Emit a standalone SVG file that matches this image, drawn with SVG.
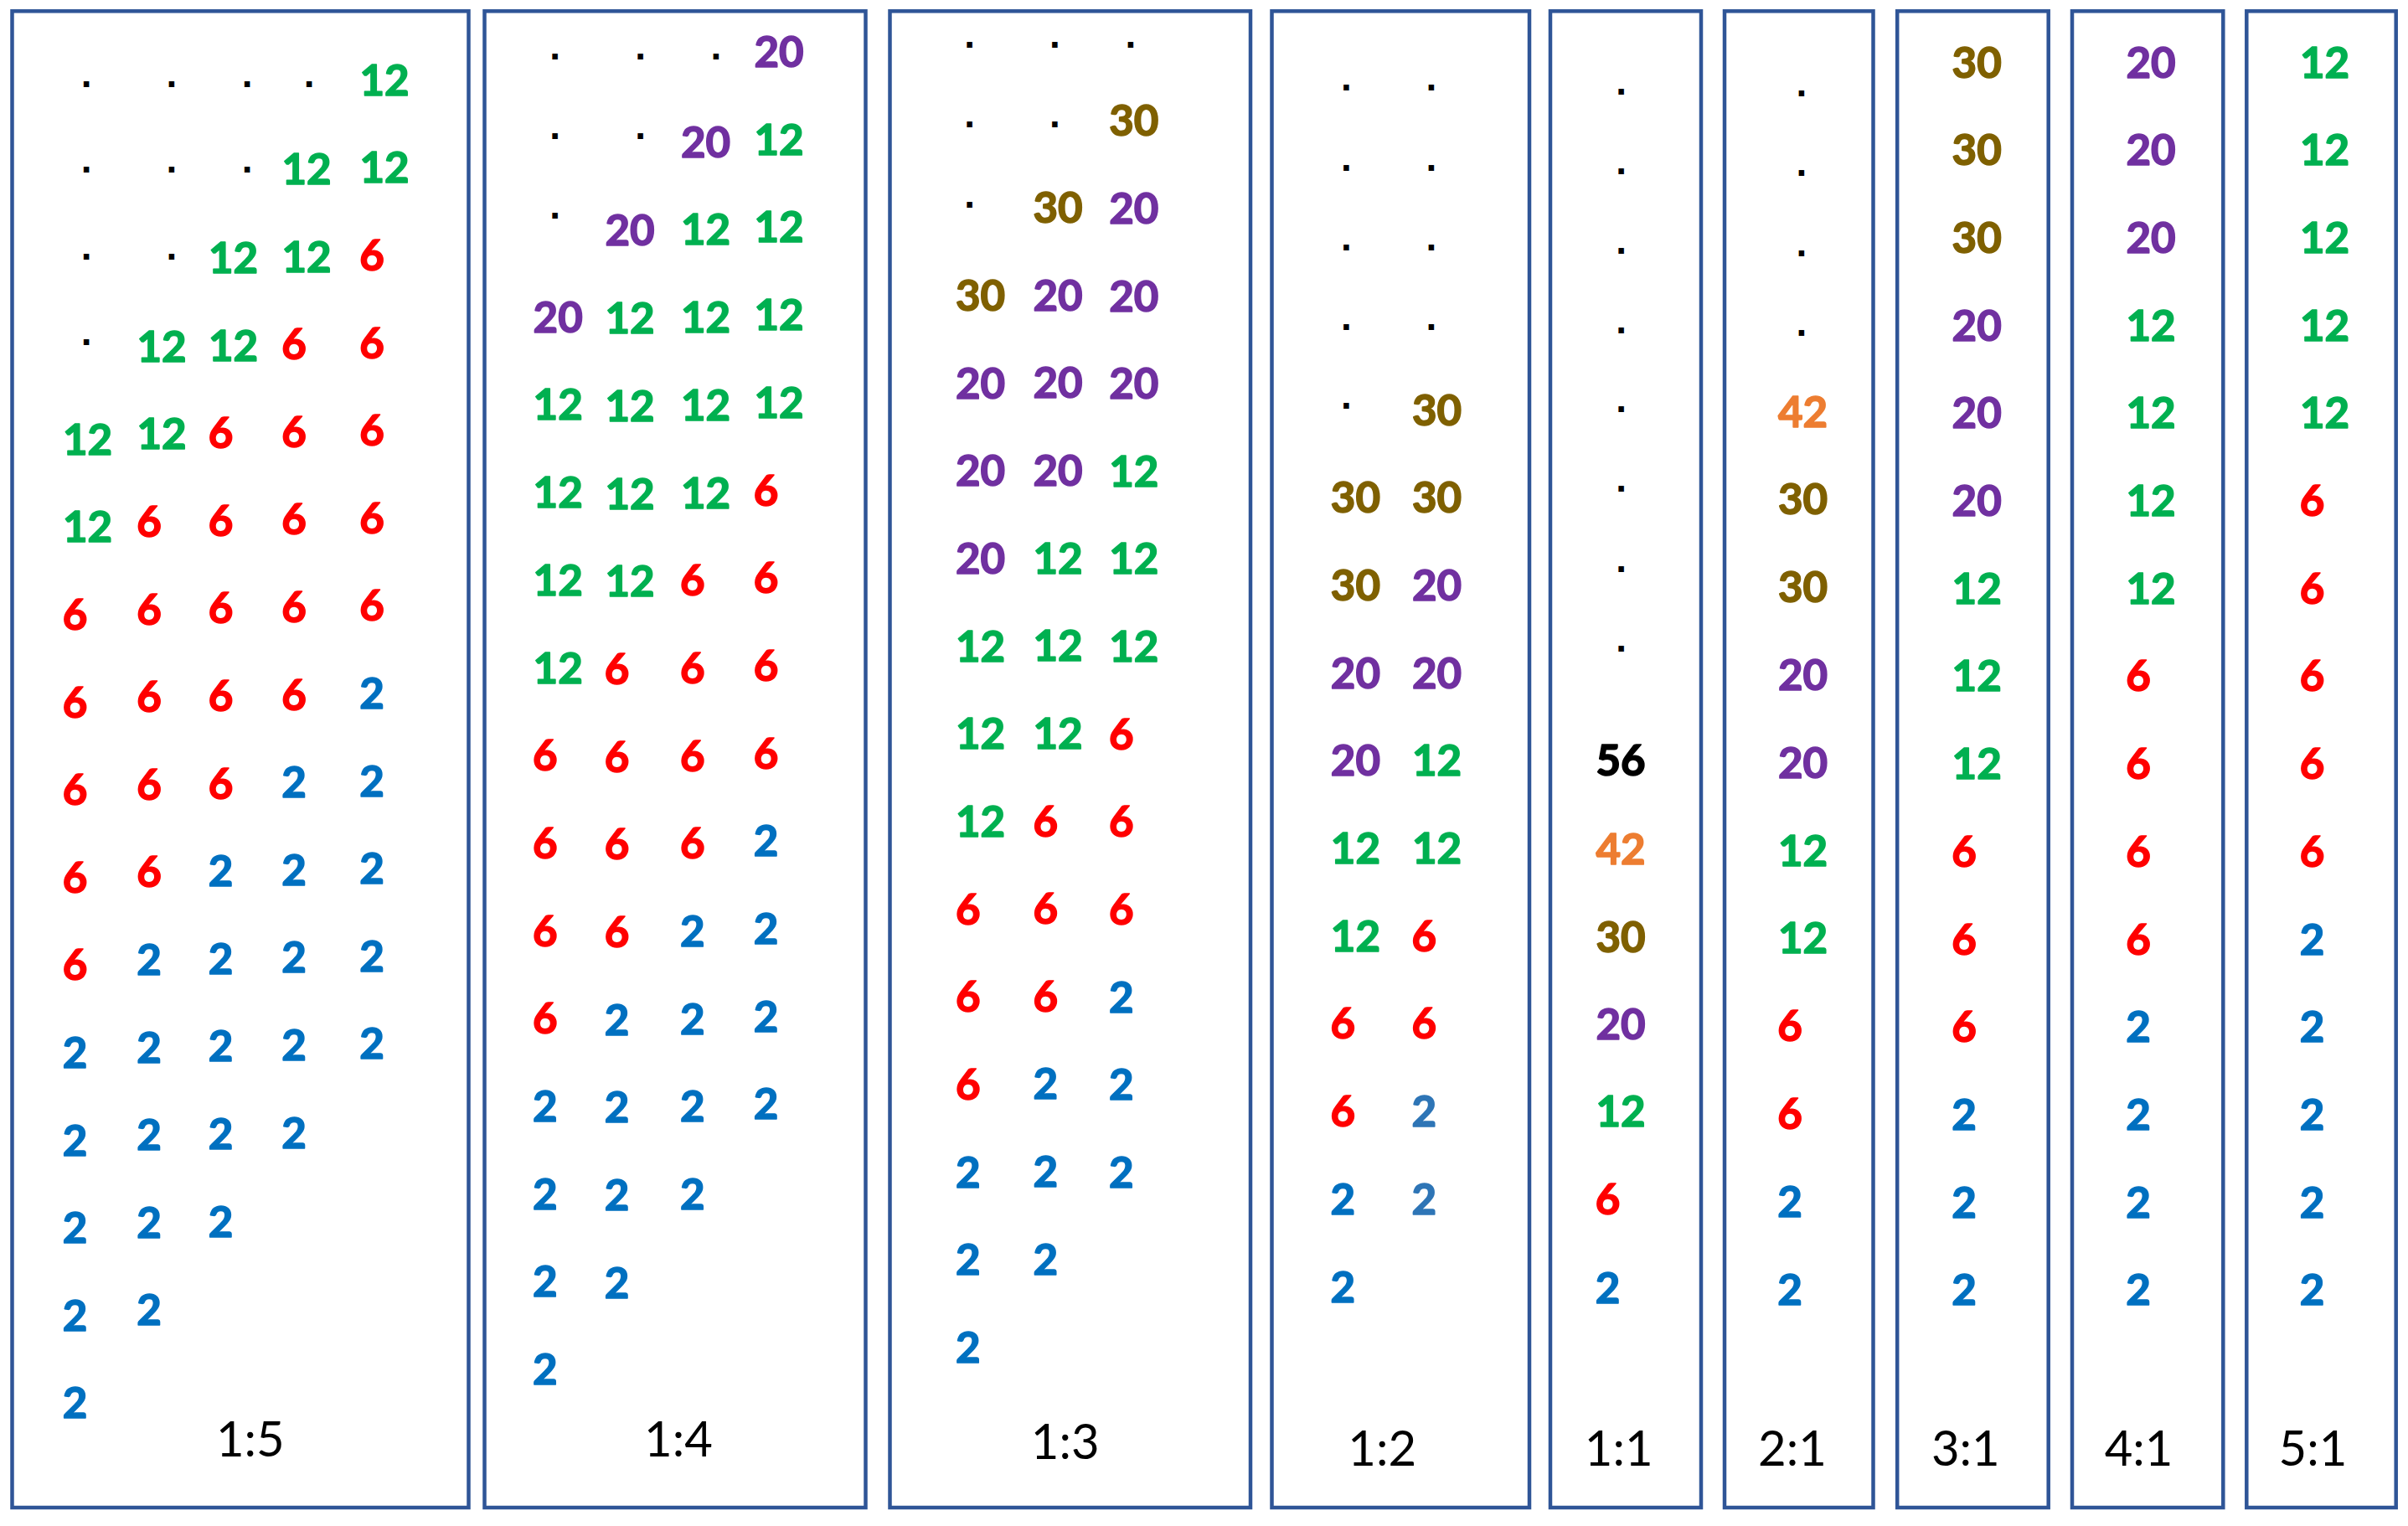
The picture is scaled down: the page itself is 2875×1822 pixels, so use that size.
<svg xmlns="http://www.w3.org/2000/svg" width="2875" height="1822" viewBox="0 0 2875 1822">
<style>
.box{fill:none;stroke:#2F5597;stroke-width:4.5}
.n{font-family:Lato,"Open Sans","Liberation Sans",sans-serif;font-weight:700;font-size:51px;text-anchor:middle;stroke-width:1.6;stroke-linejoin:round}
.g{fill:#00B050;stroke:#00B050}.r{fill:#FF0000;stroke:#FF0000}.b{fill:#0070C0;stroke:#0070C0}.b2{fill:#2E75B6;stroke:#2E75B6}.p{fill:#7030A0;stroke:#7030A0}.o{fill:#7F6000;stroke:#7F6000}.a{fill:#ED7D31;stroke:#ED7D31}.k{fill:#000;stroke:#000}
.d{font-family:"Liberation Sans",Arial,sans-serif;font-weight:700;font-size:46px;text-anchor:middle;fill:#000}
.l{font-family:Lato,"Open Sans","Liberation Sans",sans-serif;font-size:58px;text-anchor:middle;fill:#000}
</style>
<rect width="2875" height="1822" fill="#fff"/>
<g id="box-1-5">
<rect class="box" x="14.5" y="13.3" width="545" height="1786.7"/>
<text class="d" x="103.2" y="103.6">.</text><text class="d" x="205" y="103.6">.</text><text class="d" x="295.2" y="103.6">.</text><text class="d" x="369.2" y="103.6">.</text>
<text class="d" x="103.2" y="205.8">.</text><text class="d" x="205" y="205.8">.</text><text class="d" x="295.2" y="205.8">.</text>
<text class="d" x="103.2" y="310">.</text><text class="d" x="205" y="310">.</text>
<text class="d" x="103.2" y="411.7">.</text>
<text class="n g" x="104.5" y="542.7">12</text><text class="n g" x="104.5" y="647.3">12</text>
<text class="n r" x="89.5" y="751.9">6</text><text class="n r" x="89.5" y="856.5">6</text><text class="n r" x="89.5" y="961.1">6</text><text class="n r" x="89.5" y="1065.7">6</text><text class="n r" x="89.5" y="1170.3">6</text>
<text class="n b" x="89.5" y="1274.9">2</text><text class="n b" x="89.5" y="1379.5">2</text><text class="n b" x="89.5" y="1484.1">2</text><text class="n b" x="89.5" y="1588.7">2</text><text class="n b" x="89.5" y="1693.3">2</text>
<text class="n g" x="193" y="431.7">12</text><text class="n g" x="193" y="536.3">12</text>
<text class="n r" x="178" y="640.9">6</text><text class="n r" x="178" y="745.5">6</text><text class="n r" x="178" y="850.1">6</text><text class="n r" x="178" y="954.7">6</text><text class="n r" x="178" y="1059.3">6</text>
<text class="n b" x="178" y="1163.9">2</text><text class="n b" x="178" y="1268.5">2</text><text class="n b" x="178" y="1373.1">2</text><text class="n b" x="178" y="1477.7">2</text><text class="n b" x="178" y="1582.3">2</text>
<text class="n g" x="278.5" y="326">12</text><text class="n g" x="278.5" y="430.6">12</text>
<text class="n r" x="263.5" y="535.2">6</text><text class="n r" x="263.5" y="639.8">6</text><text class="n r" x="263.5" y="744.4">6</text><text class="n r" x="263.5" y="849">6</text><text class="n r" x="263.5" y="953.6">6</text>
<text class="n b" x="263.5" y="1058.2">2</text><text class="n b" x="263.5" y="1162.8">2</text><text class="n b" x="263.5" y="1267.4">2</text><text class="n b" x="263.5" y="1372">2</text><text class="n b" x="263.5" y="1476.6">2</text>
<text class="n g" x="366" y="220">12</text><text class="n g" x="366" y="324.6">12</text>
<text class="n r" x="351" y="429.2">6</text><text class="n r" x="351" y="533.8">6</text><text class="n r" x="351" y="638.4">6</text><text class="n r" x="351" y="743">6</text><text class="n r" x="351" y="847.6">6</text>
<text class="n b" x="351" y="952.2">2</text><text class="n b" x="351" y="1056.8">2</text><text class="n b" x="351" y="1161.4">2</text><text class="n b" x="351" y="1266">2</text><text class="n b" x="351" y="1370.6">2</text>
<text class="n g" x="459" y="113.7">12</text><text class="n g" x="459" y="218.3">12</text>
<text class="n r" x="444" y="322.9">6</text><text class="n r" x="444" y="427.5">6</text><text class="n r" x="444" y="532.1">6</text><text class="n r" x="444" y="636.7">6</text><text class="n r" x="444" y="741.3">6</text>
<text class="n b" x="444" y="845.9">2</text><text class="n b" x="444" y="950.5">2</text><text class="n b" x="444" y="1055.1">2</text><text class="n b" x="444" y="1159.7">2</text><text class="n b" x="444" y="1264.3">2</text>
<text class="l" x="298.8" y="1739">1:5</text>
</g>
<g id="box-1-4">
<rect class="box" x="578.5" y="13.3" width="455" height="1786.7"/>
<text class="d" x="662.7" y="70.7">.</text><text class="d" x="764.7" y="70.7">.</text><text class="d" x="855" y="70.7">.</text>
<text class="d" x="662.7" y="165.7">.</text><text class="d" x="764.7" y="165.7">.</text>
<text class="d" x="662.7" y="261.3">.</text>
<text class="n p" x="666.2" y="396.7">20</text>
<text class="n g" x="666.2" y="501.4">12</text><text class="n g" x="666.2" y="606.1">12</text><text class="n g" x="666.2" y="710.8">12</text><text class="n g" x="666.2" y="815.5">12</text>
<text class="n r" x="650.7" y="920.2">6</text><text class="n r" x="650.7" y="1024.9">6</text><text class="n r" x="650.7" y="1129.6">6</text><text class="n r" x="650.7" y="1234.3">6</text>
<text class="n b" x="650.7" y="1339">2</text><text class="n b" x="650.7" y="1443.7">2</text><text class="n b" x="650.7" y="1548.4">2</text><text class="n b" x="650.7" y="1653.1">2</text>
<text class="n p" x="752" y="293.4">20</text>
<text class="n g" x="752" y="398.1">12</text><text class="n g" x="752" y="502.8">12</text><text class="n g" x="752" y="607.5">12</text><text class="n g" x="752" y="712.2">12</text>
<text class="n r" x="736.5" y="816.9">6</text><text class="n r" x="736.5" y="921.6">6</text><text class="n r" x="736.5" y="1026.3">6</text><text class="n r" x="736.5" y="1131">6</text>
<text class="n b" x="736.5" y="1235.7">2</text><text class="n b" x="736.5" y="1340.4">2</text><text class="n b" x="736.5" y="1445.1">2</text><text class="n b" x="736.5" y="1549.8">2</text>
<text class="n p" x="842.6" y="187.7">20</text>
<text class="n g" x="842.6" y="292.4">12</text><text class="n g" x="842.6" y="397.1">12</text><text class="n g" x="842.6" y="501.8">12</text><text class="n g" x="842.6" y="606.5">12</text>
<text class="n r" x="826.8" y="711.2">6</text><text class="n r" x="826.8" y="815.9">6</text><text class="n r" x="826.8" y="920.6">6</text><text class="n r" x="826.8" y="1025.3">6</text>
<text class="n b" x="826.8" y="1130">2</text><text class="n b" x="826.8" y="1234.7">2</text><text class="n b" x="826.8" y="1339.4">2</text><text class="n b" x="826.8" y="1444.1">2</text>
<text class="n p" x="930" y="80">20</text>
<text class="n g" x="930" y="184.7">12</text><text class="n g" x="930" y="289.4">12</text><text class="n g" x="930" y="394.1">12</text><text class="n g" x="930" y="498.8">12</text>
<text class="n r" x="914.5" y="603.5">6</text><text class="n r" x="914.5" y="708.2">6</text><text class="n r" x="914.5" y="812.9">6</text><text class="n r" x="914.5" y="917.6">6</text>
<text class="n b" x="914.5" y="1022.3">2</text><text class="n b" x="914.5" y="1127">2</text><text class="n b" x="914.5" y="1231.7">2</text><text class="n b" x="914.5" y="1336.4">2</text>
<text class="l" x="810" y="1739">1:4</text>
</g>
<g id="box-1-3">
<rect class="box" x="1062.5" y="13.3" width="430.5" height="1786.7"/>
<text class="d" x="1157.7" y="57">.</text><text class="d" x="1259.3" y="57">.</text><text class="d" x="1350" y="57">.</text>
<text class="d" x="1157.7" y="152.3">.</text><text class="d" x="1259.3" y="152.3">.</text>
<text class="d" x="1157.7" y="248">.</text>
<text class="n o" x="1170.5" y="371">30</text>
<text class="n p" x="1170.5" y="475.6">20</text><text class="n p" x="1170.5" y="580.3">20</text><text class="n p" x="1170.5" y="684.9">20</text>
<text class="n g" x="1170.5" y="789.6">12</text><text class="n g" x="1170.5" y="894.2">12</text><text class="n g" x="1170.5" y="998.9">12</text>
<text class="n r" x="1155.7" y="1103.5">6</text><text class="n r" x="1155.7" y="1208.2">6</text><text class="n r" x="1155.7" y="1312.8">6</text>
<text class="n b" x="1155.7" y="1417.5">2</text><text class="n b" x="1155.7" y="1522.1">2</text><text class="n b" x="1155.7" y="1626.8">2</text>
<text class="n o" x="1263" y="265.9">30</text>
<text class="n p" x="1263" y="370.6">20</text><text class="n p" x="1263" y="475.2">20</text><text class="n p" x="1263" y="579.9">20</text>
<text class="n g" x="1263" y="684.5">12</text><text class="n g" x="1263" y="789.2">12</text><text class="n g" x="1263" y="893.8">12</text>
<text class="n r" x="1248.3" y="998.5">6</text><text class="n r" x="1248.3" y="1103.1">6</text><text class="n r" x="1248.3" y="1207.8">6</text>
<text class="n b" x="1248.3" y="1312.4">2</text><text class="n b" x="1248.3" y="1417.1">2</text><text class="n b" x="1248.3" y="1521.7">2</text>
<text class="n o" x="1353.8" y="162.2">30</text>
<text class="n p" x="1353.8" y="266.8">20</text><text class="n p" x="1353.8" y="371.5">20</text><text class="n p" x="1353.8" y="476.1">20</text>
<text class="n g" x="1353.8" y="580.8">12</text><text class="n g" x="1353.8" y="685.4">12</text><text class="n g" x="1353.8" y="790.1">12</text>
<text class="n r" x="1338.8" y="894.7">6</text><text class="n r" x="1338.8" y="999.4">6</text><text class="n r" x="1338.8" y="1104">6</text>
<text class="n b" x="1338.8" y="1208.7">2</text><text class="n b" x="1338.8" y="1313.3">2</text><text class="n b" x="1338.8" y="1418">2</text>
<text class="l" x="1271.7" y="1742.3">1:3</text>
</g>
<g id="box-1-2">
<rect class="box" x="1518.5" y="13.3" width="307.5" height="1786.7"/>
<text class="d" x="1607.3" y="108.2">.</text><text class="d" x="1607.3" y="203.9">.</text><text class="d" x="1607.3" y="298.8">.</text><text class="d" x="1607.3" y="394.1">.</text><text class="d" x="1607.3" y="487.9">.</text>
<text class="d" x="1709" y="108.2">.</text><text class="d" x="1709" y="203.9">.</text><text class="d" x="1709" y="298.8">.</text><text class="d" x="1709" y="394.1">.</text>
<text class="n o" x="1618.4" y="612.2">30</text><text class="n o" x="1618.4" y="716.9">30</text>
<text class="n p" x="1618.4" y="821.6">20</text><text class="n p" x="1618.4" y="926.3">20</text>
<text class="n g" x="1618.4" y="1031">12</text><text class="n g" x="1618.4" y="1135.7">12</text>
<text class="n r" x="1603.2" y="1240.4">6</text><text class="n r" x="1603.2" y="1345.1">6</text>
<text class="n b" x="1603.2" y="1449.8">2</text><text class="n b" x="1603.2" y="1554.5">2</text>
<text class="n o" x="1715.5" y="507.5">30</text><text class="n o" x="1715.5" y="612.2">30</text>
<text class="n p" x="1715.5" y="716.9">20</text><text class="n p" x="1715.5" y="821.6">20</text>
<text class="n g" x="1715.5" y="926.3">12</text><text class="n g" x="1715.5" y="1031">12</text>
<text class="n r" x="1700.4" y="1135.7">6</text><text class="n r" x="1700.4" y="1240.4">6</text>
<text class="n b2" x="1700.4" y="1345.1">2</text><text class="n b2" x="1700.4" y="1449.8">2</text>
<text class="l" x="1650.2" y="1750">1:2</text>
</g>
<g id="box-1-1">
<rect class="box" x="1851" y="13.3" width="180" height="1786.7"/>
<text class="d" x="1935.6" y="112.8">.</text><text class="d" x="1935.6" y="207.7">.</text><text class="d" x="1935.6" y="303.4">.</text><text class="d" x="1935.6" y="398.3">.</text><text class="d" x="1935.6" y="491.7">.</text><text class="d" x="1935.6" y="587">.</text><text class="d" x="1935.6" y="682.9">.</text><text class="d" x="1935.6" y="778.4">.</text>
<text class="n k" x="1935" y="925.5">56</text>
<text class="n a" x="1935" y="1032">42</text>
<text class="n o" x="1935" y="1137">30</text>
<text class="n p" x="1935" y="1241">20</text>
<text class="n g" x="1935" y="1344.5">12</text>
<text class="n r" x="1919.6" y="1450">6</text>
<text class="n b" x="1919.6" y="1556">2</text>
<text class="l" x="1932.7" y="1750">1:1</text>
</g>
<g id="box-2-1">
<rect class="box" x="2059" y="13.3" width="177.5" height="1786.7"/>
<text class="d" x="2151" y="114.8">.</text><text class="d" x="2151" y="210.2">.</text><text class="d" x="2151" y="305.5">.</text><text class="d" x="2151" y="400.9">.</text>
<text class="n a" x="2152.5" y="509.5">42</text>
<text class="n o" x="2152.5" y="614.3">30</text><text class="n o" x="2152.5" y="719.1">30</text>
<text class="n p" x="2152.5" y="823.9">20</text><text class="n p" x="2152.5" y="928.7">20</text>
<text class="n g" x="2152.5" y="1033.5">12</text><text class="n g" x="2152.5" y="1138.3">12</text>
<text class="n r" x="2137" y="1243.1">6</text><text class="n r" x="2137" y="1347.9">6</text>
<text class="n b" x="2137" y="1452.7">2</text><text class="n b" x="2137" y="1557.5">2</text>
<text class="l" x="2140" y="1750">2:1</text>
</g>
<g id="box-3-1">
<rect class="box" x="2265.2" y="13.3" width="180.5" height="1786.7"/>
<text class="n o" x="2360.2" y="92.5">30</text><text class="n o" x="2360.2" y="197.2">30</text><text class="n o" x="2360.2" y="301.9">30</text>
<text class="n p" x="2360.2" y="406.6">20</text><text class="n p" x="2360.2" y="511.3">20</text><text class="n p" x="2360.2" y="616">20</text>
<text class="n g" x="2360.2" y="720.7">12</text><text class="n g" x="2360.2" y="825.4">12</text><text class="n g" x="2360.2" y="930.1">12</text>
<text class="n r" x="2345" y="1034.8">6</text><text class="n r" x="2345" y="1139.5">6</text><text class="n r" x="2345" y="1244.2">6</text>
<text class="n b" x="2345" y="1348.9">2</text><text class="n b" x="2345" y="1453.6">2</text><text class="n b" x="2345" y="1558.3">2</text>
<text class="l" x="2346.8" y="1750">3:1</text>
</g>
<g id="box-4-1">
<rect class="box" x="2474" y="13.3" width="180.3" height="1786.7"/>
<text class="n p" x="2568" y="92.5">20</text><text class="n p" x="2568" y="197.2">20</text><text class="n p" x="2568" y="301.9">20</text>
<text class="n g" x="2568" y="406.6">12</text><text class="n g" x="2568" y="511.3">12</text><text class="n g" x="2568" y="616">12</text><text class="n g" x="2568" y="720.7">12</text>
<text class="n r" x="2553" y="825.4">6</text><text class="n r" x="2553" y="930.1">6</text><text class="n r" x="2553" y="1034.8">6</text><text class="n r" x="2553" y="1139.5">6</text>
<text class="n b" x="2553" y="1244.2">2</text><text class="n b" x="2553" y="1348.9">2</text><text class="n b" x="2553" y="1453.6">2</text><text class="n b" x="2553" y="1558.3">2</text>
<text class="l" x="2553.6" y="1750">4:1</text>
</g>
<g id="box-5-1">
<rect class="box" x="2682.3" y="13.3" width="178.4" height="1786.7"/>
<text class="n g" x="2775.5" y="92.5">12</text><text class="n g" x="2775.5" y="197.2">12</text><text class="n g" x="2775.5" y="301.9">12</text><text class="n g" x="2775.5" y="406.6">12</text><text class="n g" x="2775.5" y="511.3">12</text>
<text class="n r" x="2760.5" y="616">6</text><text class="n r" x="2760.5" y="720.7">6</text><text class="n r" x="2760.5" y="825.4">6</text><text class="n r" x="2760.5" y="930.1">6</text><text class="n r" x="2760.5" y="1034.8">6</text>
<text class="n b" x="2760.5" y="1139.5">2</text><text class="n b" x="2760.5" y="1244.2">2</text><text class="n b" x="2760.5" y="1348.9">2</text><text class="n b" x="2760.5" y="1453.6">2</text><text class="n b" x="2760.5" y="1558.3">2</text>
<text class="l" x="2761.4" y="1750">5:1</text>
</g>
</svg>
